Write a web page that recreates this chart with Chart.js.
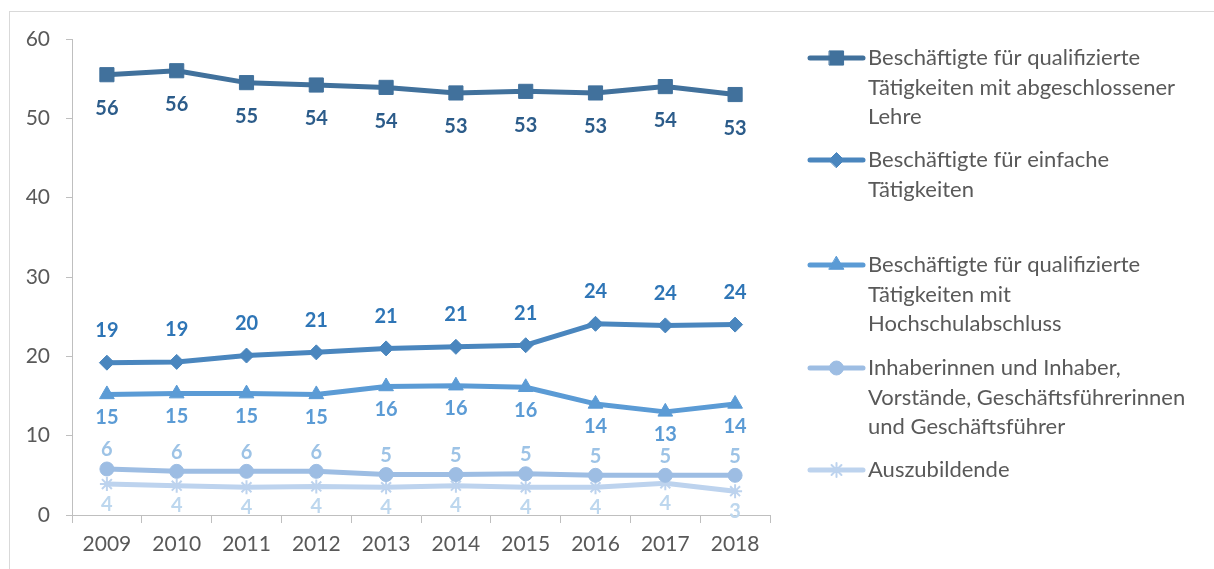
<!DOCTYPE html>
<html><head><meta charset="utf-8">
<script src="https://cdn.jsdelivr.net/npm/chart.js@4"></script>
<style>
html,body{margin:0;padding:0;background:#fff;overflow:hidden;width:1214px;height:569px}
#frame{position:absolute;left:9px;top:11px;width:1400px;height:800px;border:1px solid #d9d9d9;box-sizing:border-box}
#wrap{position:absolute;left:0;top:0;width:1214px;height:569px}
</style></head><body>
<div id="frame"></div>
<div id="wrap"><canvas id="c" width="1214" height="569"></canvas></div>
<script>
const years = ['2009','2010','2011','2012','2013','2014','2015','2016','2017','2018'];
const lehre = [55.5, 56.0, 54.5, 54.2, 53.9, 53.2, 53.4, 53.2, 54.0, 53.0];
const einfache = [19.2, 19.3, 20.1, 20.5, 21.0, 21.2, 21.4, 24.1, 23.9, 24.0];
const hochschule = [15.2, 15.3, 15.3, 15.2, 16.2, 16.3, 16.1, 14.0, 13.0, 14.0];
const inhaber = [5.8, 5.5, 5.5, 5.5, 5.1, 5.1, 5.2, 5.0, 5.0, 5.0];
const azubis = [3.9, 3.7, 3.5, 3.6, 3.5, 3.7, 3.5, 3.5, 4.0, 3.0];
const legendLehre = ['Beschäftigte für qualifizierte', 'Tätigkeiten mit abgeschlossener', 'Lehre'];
const legendEinfache = ['Beschäftigte für einfache', 'Tätigkeiten'];
const legendHochschule = ['Beschäftigte für qualifizierte', 'Tätigkeiten mit', 'Hochschulabschluss'];
const legendInhaber = ['Inhaberinnen und Inhaber,', 'Vorstände, Geschäftsführerinnen', 'und Geschäftsführer'];
const legendAzubis = ['Auszubildende'];
const yMin = 0, yMax = 60, yStep = 10;

const FONT = 'Lato, Calibri, Carlito, sans-serif';
const TEXT = '#595959';

function ds(label, data, color, labelColor, style, radius, pbw, dy, legendY) {
  return {
    label: label.join(' '), legendLines: label, data,
    borderColor: color, backgroundColor: color,
    pointBackgroundColor: color, pointBorderColor: color,
    pointStyle: style, pointRadius: radius, pointHoverRadius: radius,
    pointBorderWidth: pbw, borderWidth: 5, tension: 0,
    borderJoinStyle: 'round', borderCapStyle: 'round',
    labelColor, labelDy: dy, legendY
  };
}

const dataLabels = {
  id: 'dataLabels',
  afterDatasetsDraw(chart) {
    const ctx = chart.ctx;
    ctx.save();
    ctx.font = 'bold 20px ' + FONT;
    ctx.textAlign = 'center';
    ctx.textBaseline = 'middle';
    chart.data.datasets.forEach((d, i) => {
      const meta = chart.getDatasetMeta(i);
      ctx.fillStyle = d.labelColor;
      meta.data.forEach((p, j) => {
        ctx.fillText(String(Math.round(d.data[j])), p.x, p.y + d.labelDy);
      });
    });
    ctx.restore();
  }
};

const sideLegend = {
  id: 'sideLegend',
  afterDraw(chart) {
    const ctx = chart.ctx;
    ctx.save();
    chart.data.datasets.forEach(d => {
      const y = d.legendY;
      ctx.strokeStyle = d.borderColor;
      ctx.lineWidth = 5;
      ctx.lineCap = 'round';
      ctx.beginPath(); ctx.moveTo(810, y); ctx.lineTo(863, y); ctx.stroke();
      ctx.fillStyle = d.borderColor;
      ctx.lineWidth = d.pointBorderWidth;
      Chart.helpers.drawPoint(ctx, {pointStyle: d.pointStyle, radius: d.pointRadius, rotation: 0, borderWidth: d.pointBorderWidth}, 836.5, y);
      ctx.fillStyle = TEXT;
      ctx.font = '22px ' + FONT;
      ctx.textAlign = 'left';
      ctx.textBaseline = 'middle';
      d.legendLines.forEach((t, k) => ctx.fillText(t, 868, y + k * 29.5));
    });
    ctx.restore();
  }
};

new Chart(document.getElementById('c'), {
  type: 'line',
  data: {
    labels: years,
    datasets: [
      ds(legendLehre, lehre, '#41719C', '#2C5C8A', 'rect', 10, 1, 34, 58),
      ds(legendEinfache, einfache, '#4A86BE', '#2E75B6', 'rectRot', 7.5, 1, -32, 160),
      ds(legendHochschule, hochschule, '#5B9BD5', '#5B9BD5', 'triangle', 8.5, 1, 23, 265),
      ds(legendInhaber, inhaber, '#9DBDE3', '#9DC3E6', 'circle', 7, 1, -19, 368),
      ds(legendAzubis, azubis, '#BDD3EE', '#BDD7EE', 'star', 7, 2, 20, 470)
    ]
  },
  options: {
    responsive: false,
    animation: false,
    layout: { padding: { left: 0, right: 444, top: 39, bottom: 0 } },
    plugins: { legend: { display: false }, tooltip: { enabled: false } },
    scales: {
      x: {
        offset: true,
        grid: { offset: true, drawOnChartArea: false, tickLength: 8, color: '#bfbfbf', lineWidth: 1 },
        border: { color: '#bfbfbf', width: 1 },
        ticks: { color: TEXT, font: { family: FONT, size: 21 }, padding: 9, maxRotation: 0 },
        afterFit(s) { s.height = 54; }
      },
      y: {
        min: yMin, max: yMax,
        grid: { drawOnChartArea: false, tickLength: 6, color: '#bfbfbf', lineWidth: 1 },
        border: { color: '#bfbfbf', width: 1 },
        ticks: { stepSize: yStep, color: TEXT, font: { family: FONT, size: 21 }, padding: 16 },
        afterFit(s) { s.width = 72; }
      }
    }
  },
  plugins: [dataLabels, sideLegend]
});
</script>
</body></html>
